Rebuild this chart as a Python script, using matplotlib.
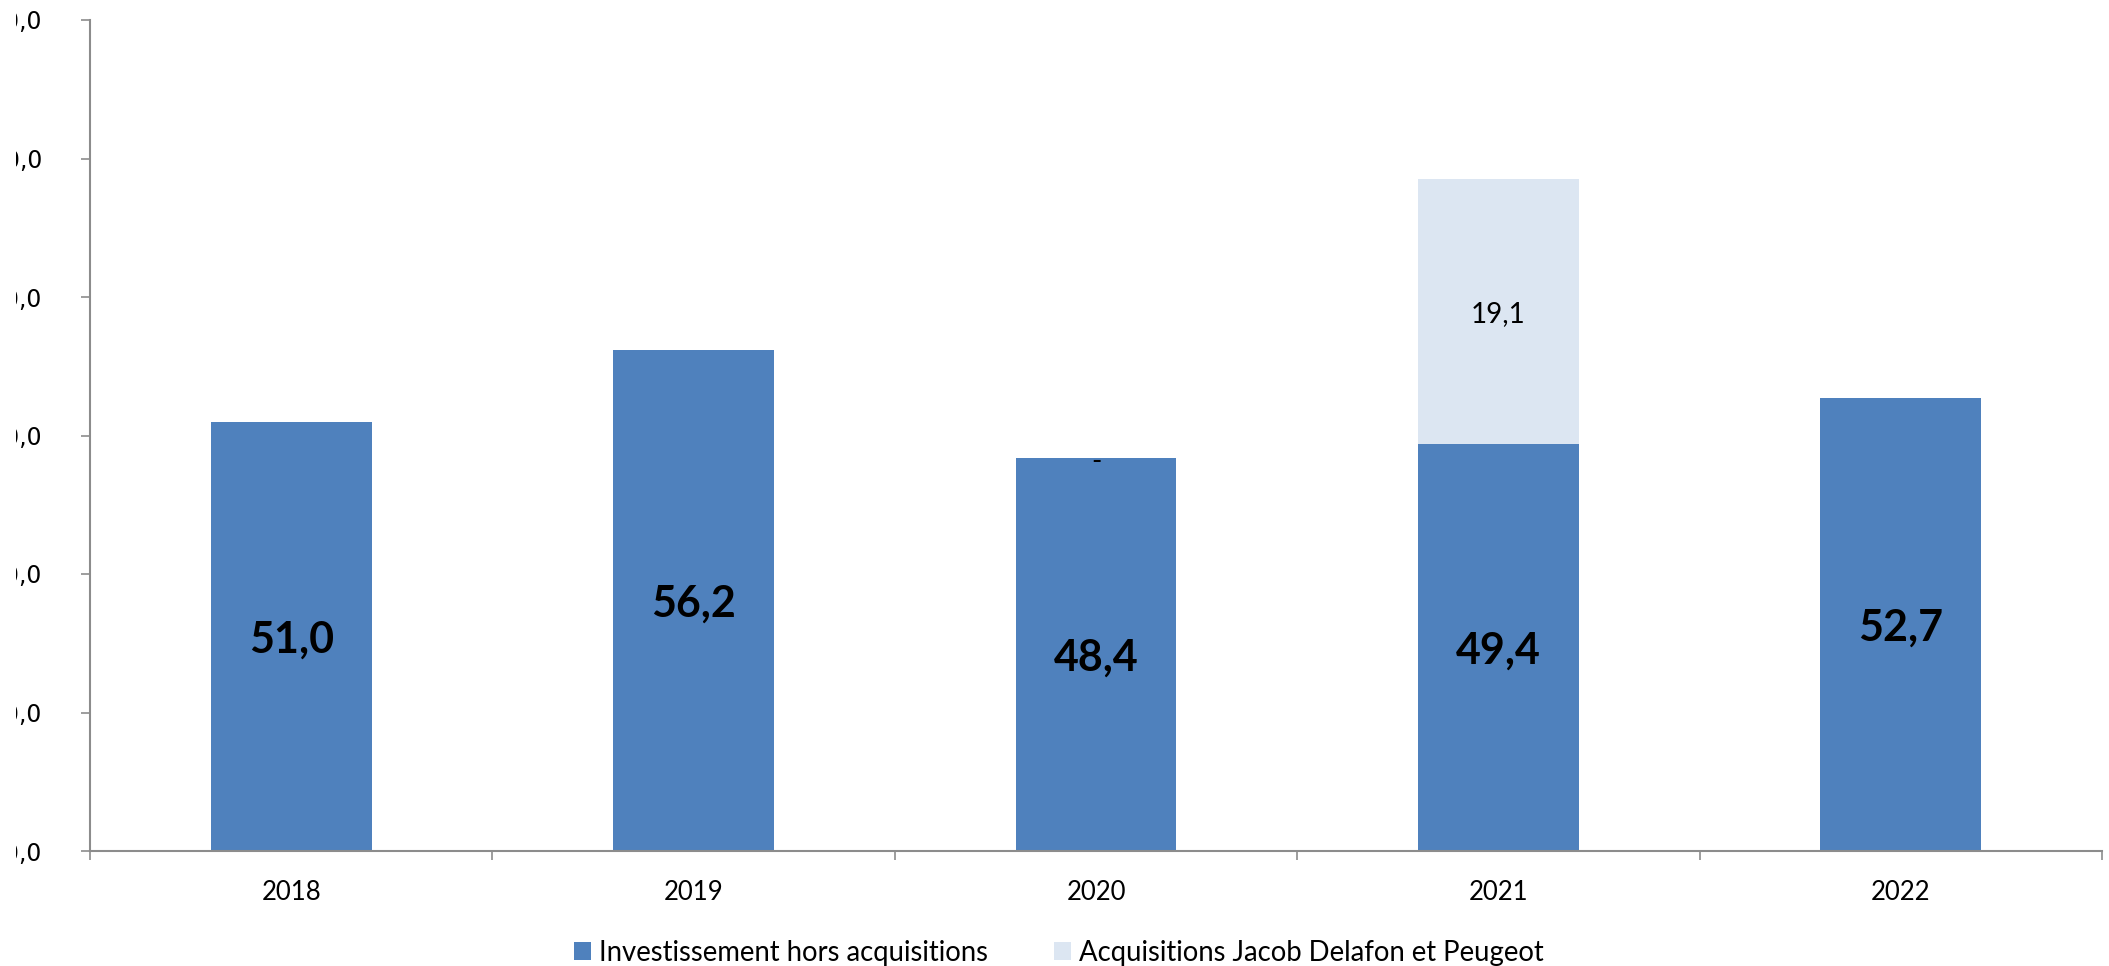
import matplotlib.pyplot as plt
from matplotlib.patches import Rectangle, Patch
from matplotlib.ticker import FuncFormatter, FixedLocator
import numpy as np

years = ['2018', '2019', '2020', '2021', '2022']
invest = [51.0, 56.2, 48.4, 49.4, 52.7]
acquis = [0.0, 0.0, 0.0, 19.1, 0.0]
acquis_labels = ['', '', '-', '19,1', '']

BLUE = '#4F81BD'
LIGHT = '#DCE6F2'
GREY = '#8C8C8C'
FONT = ['Lato', 'DejaVu Sans']

plt.rcParams['font.family'] = FONT

fig = plt.figure(figsize=(21.09, 9.66), dpi=100)
ax = fig.add_axes([90 / 2109, 115 / 966, (2102 - 90) / 2109, (946 - 115) / 966])

x = np.arange(len(years))
ax.bar(x, invest, width=0.4, color=BLUE)
acq = np.array(acquis)
ax.bar(x[acq > 0], acq[acq > 0], width=0.4, color=LIGHT, bottom=np.array(invest)[acq > 0])

for i, v in enumerate(invest):
    ax.text(x[i], 20 + (v - 20) / 2, f'{v:.1f}'.replace('.', ','), ha='center',
            va='center_baseline', fontsize=31, fontweight='bold', color='black')
for i, lab in enumerate(acquis_labels):
    if not lab:
        continue
    if acquis[i] > 0:
        ax.text(x[i], invest[i] + acquis[i] / 2, lab, ha='center', va='center_baseline',
                fontsize=20, color='black')
    else:
        # zero segment: excel puts the dash just under the bar top
        ax.annotate(lab, (x[i], invest[i]), xytext=(0, -12), textcoords='offset pixels',
                    ha='center', va='baseline', fontsize=20, color='black')

ax.set_ylim(20, 80)
ax.set_xlim(-0.5, len(years) - 0.5)
ax.set_yticks(np.arange(20, 81, 10))
ax.yaxis.set_major_formatter(FuncFormatter(lambda v, p: f'{v:.1f}'.replace('.', ',')))
ax.tick_params(axis='y', direction='out', length=6.5, width=1.2, color=GREY, pad=28)
for t in ax.get_yticklabels():
    t.set_family('DejaVu Sans')
    t.set_fontsize(17)

ax.set_xticks(x)
ax.set_xticklabels(years, fontsize=18.5)
ax.tick_params(axis='x', which='major', length=0, pad=21)
ax.xaxis.set_minor_locator(FixedLocator(np.arange(-0.5, len(years), 1.0)))
ax.tick_params(axis='x', which='minor', direction='out', length=6.5, width=1.2, color=GREY)

for s in ['top', 'right']:
    ax.spines[s].set_visible(False)
for s in ['left', 'bottom']:
    ax.spines[s].set_color(GREY)
    ax.spines[s].set_linewidth(1.5)

handles = [Patch(facecolor=BLUE, label='Investissement hors acquisitions'),
           Patch(facecolor=LIGHT, label='Acquisitions Jacob Delafon et Peugeot')]
fig.legend(handles=handles, loc='center', bbox_to_anchor=(0.502, 13 / 966), ncol=2,
           frameon=False, fontsize=19.8, handlelength=0.62, handleheight=0.62,
           handletextpad=0.3, columnspacing=2.4, borderaxespad=0, borderpad=0)

# left edge of the original image cuts the axis labels
fig.patches.append(Rectangle((0, 0), 16 / 2109, 1, transform=fig.transFigure,
                             facecolor='white', edgecolor='none', zorder=10))

fig.savefig('out.png', dpi=100)
